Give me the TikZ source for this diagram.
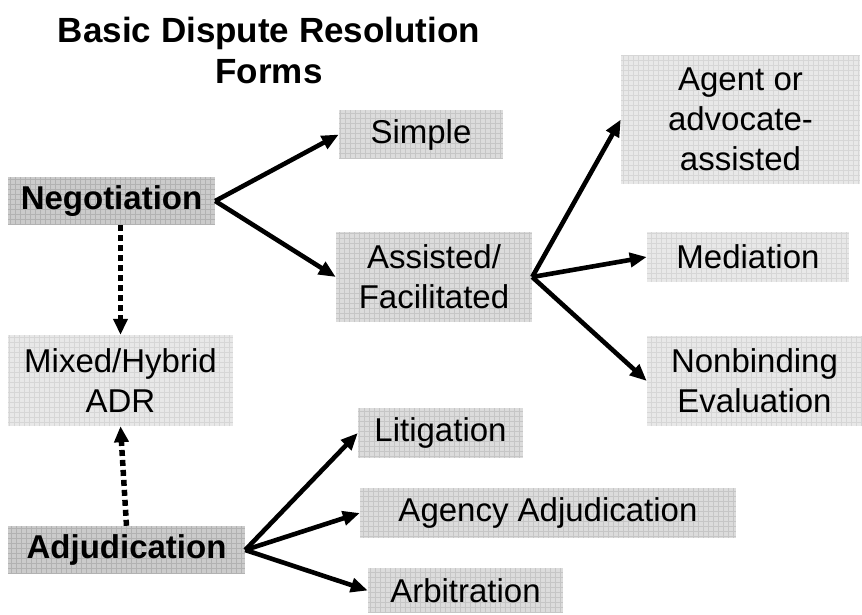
\documentclass[tikz,border=0pt]{standalone}
\usepackage{fontspec}
\setmainfont{Liberation Sans}
\usetikzlibrary{arrows.meta}
\definecolor{darkbase}{HTML}{CBCBCB}
\definecolor{darkgrid}{HTML}{B2B2B2}
\definecolor{midbase}{HTML}{DCDCDC}
\definecolor{midgrid}{HTML}{C6C6C6}
\definecolor{litebase}{HTML}{E8E8E8}
\definecolor{litegrid}{HTML}{D6D6D6}
\begin{document}
\begin{tikzpicture}[x=1pt,y=-1pt,
  boxbase/.style={inner sep=0pt, align=center,
    font=\fontsize{33}{40}\selectfont},
  darkbox/.style={boxbase, fill=darkbase, path picture={
    \draw[darkgrid, line width=0.6pt, step=5pt]
      (path picture bounding box.south west) grid (path picture bounding box.north east);}},
  midbox/.style={boxbase, fill=midbase, path picture={
    \draw[midgrid, line width=0.6pt, step=5pt]
      (path picture bounding box.south west) grid (path picture bounding box.north east);}},
  litebox/.style={boxbase, fill=litebase, path picture={
    \draw[litegrid, line width=0.6pt, step=5pt]
      (path picture bounding box.south west) grid (path picture bounding box.north east);}},
  arr/.style={line width=4.6pt, -{Triangle[length=17pt,width=14pt]}},
  dotarr/.style={line width=5.5pt, dash pattern=on 6pt off 4pt, -{Triangle[length=16pt,width=14pt]}}
]
\useasboundingbox (0,0) rectangle (862,615);

\node[anchor=north, align=center, inner sep=0pt, font=\bfseries\fontsize{35}{41}\selectfont] (title) at (269,17) {Basic Dispute Resolution\\Forms};

\node[darkbox, minimum width=207pt, minimum height=48pt] (neg) at (111.5,201) {\bfseries Negotiation};
\node[midbox, minimum width=164pt, minimum height=49pt] (simple) at (421,134.5) {Simple};
\node[midbox, minimum width=196pt, minimum height=90pt] (assist) at (434,277) {Assisted/\\Facilitated};
\node[litebox, minimum width=239pt, minimum height=129pt] (agent) at (740.5,119.5) {Agent or\\advocate-\\assisted};
\node[litebox, minimum width=202pt, minimum height=50pt] (med) at (748,257) {Mediation};
\node[litebox, minimum width=215pt, minimum height=90pt] (nonb) at (754.5,381) {Nonbinding\\Evaluation};
\node[litebox, minimum width=225pt, minimum height=91pt] (mix) at (120.5,380.5) {Mixed/Hybrid\\ADR};
\node[midbox, minimum width=165pt, minimum height=50pt] (lit) at (440.5,433) {Litigation};
\node[midbox, minimum width=376pt, minimum height=50pt] (agency) at (548,513) {Agency Adjudication};
\node[midbox, minimum width=195pt, minimum height=45pt] (arb) at (465.5,590.5) {Arbitration};
\node[darkbox, minimum width=237pt, minimum height=48pt] (adj) at (126.5,550) {\bfseries Adjudication};

\draw[arr] (neg.east) -- (simple.west);
\draw[arr] (neg.east) -- (assist.west);
\draw[arr] (assist.east) -- (agent.west);
\draw[arr] (assist.east) -- (med.west);
\draw[arr] (assist.east) -- (nonb.west);
\draw[arr] (adj.east) -- (lit.west);
\draw[arr] (adj.east) -- (agency.west);
\draw[arr] (adj.east) -- (arb.west);

\draw[dotarr] (neg.south -| mix.north) -- (mix.north);
\draw[dotarr] (adj.north) -- (mix.south);
\end{tikzpicture}
\end{document}
